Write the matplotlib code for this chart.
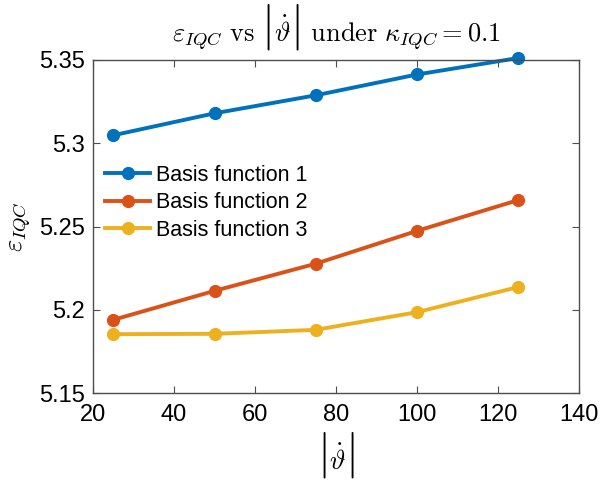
import numpy as np
import matplotlib.pyplot as plt

plt.rcParams['font.family'] = ['Liberation Sans', 'DejaVu Sans']
plt.rcParams['mathtext.fontset'] = 'cm'

# angular rate magnitude and IQC error per basis function
theta_dot = [25, 50, 75, 100, 125]
basis1 = [5.3048, 5.3180, 5.3288, 5.3413, 5.3512]
basis2 = [5.1940, 5.2114, 5.2277, 5.2474, 5.2659]
basis3 = [5.1854, 5.1856, 5.1880, 5.1986, 5.2137]
labels = ['Basis function 1', 'Basis function 2', 'Basis function 3']
colors = ['#0072BD', '#D95319', '#EDB120']

# |theta dot| with tall bars (empty over/under sets pad the height)
absdot = (r'\left|\overset{\ }{\overset{\ }{\underset{\ }{\underset{\ }'
          r'{\dot{\vartheta}}}}}\right|')

fig = plt.figure(figsize=(6, 4.8), dpi=100)
ax = fig.add_axes([0.155, 0.181, 0.81, 0.694])

for y, lab, c in zip([basis1, basis2, basis3], labels, colors):
    ax.plot(theta_dot, y, '-o', color=c, lw=2.8, ms=8.5, label=lab, clip_on=False)

ax.set_xlim(20, 140)
ax.set_ylim(5.15, 5.35)
ax.set_xticks(np.arange(20, 141, 20))
ax.set_yticks([5.15, 5.2, 5.25, 5.3, 5.35])
ax.set_yticklabels(['5.15', '5.2', '5.25', '5.3', '5.35'])
ax.tick_params(direction='in', top=True, right=True, labelsize=17,
               color='#4d4d4d', length=5, width=0.8)
ax.tick_params(axis='x', pad=8)
ax.tick_params(axis='y', pad=6)
for s in ax.spines.values():
    s.set_color('#4d4d4d')
    s.set_linewidth(1.0)

ax.set_title(r'$\varepsilon_{IQC}\ \mathrm{vs}\ ' + absdot +
             r'\ \mathrm{under}\ \kappa_{IQC}=0.1$', fontsize=19, pad=14)
ax.set_xlabel('$' + absdot + '$', fontsize=19, labelpad=3)
ax.set_ylabel(r'$\varepsilon_{IQC}$', fontsize=19, labelpad=4)

ax.legend(loc='upper left', bbox_to_anchor=(0.025, 0.685), frameon=False,
          fontsize=15.5, handlelength=2.1, handletextpad=0.25, labelspacing=0.3,
          borderaxespad=0, borderpad=0)

fig.savefig('out.png', dpi=100)
